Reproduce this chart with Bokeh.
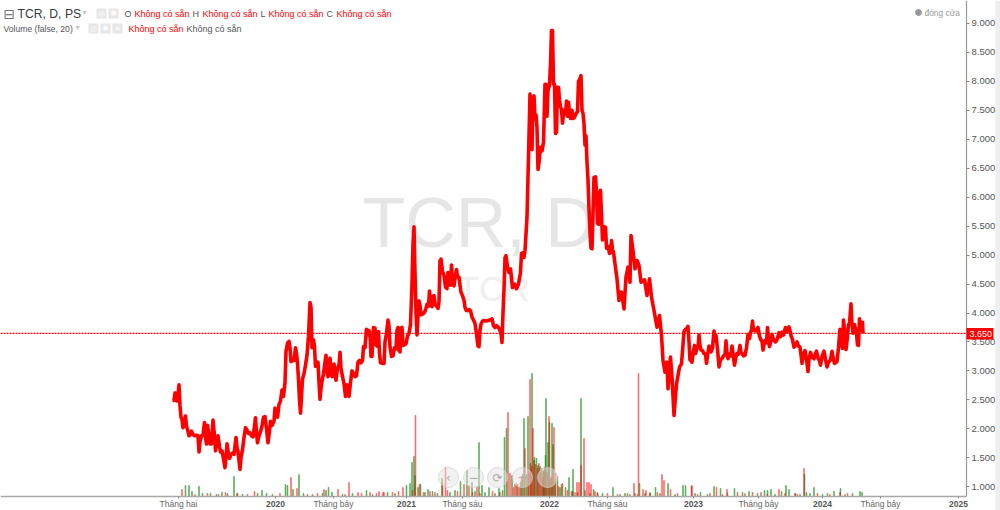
from bokeh.plotting import figure
from bokeh.embed import file_html
from bokeh.resources import INLINE
from bokeh.models import Range1d, LinearAxis, Label, FixedTicker

# --- price series: session index / close (VND)
sessions = [0,3,5,7,9,11,13,15,17,19,21,24,26,28,30,33,36,38,41,44,48,51,53,55,58,61,64,66,68,70,72,75,78,81,84,86,89,91,94,96,99,102,105,107,109,112,114,117,120,123,127,129,131,133,135,137,140,143,146,149,152,155,158,161,164,166,168,170,173,176,179,182,185,188,191,194,196,199,203,205,207,210,213,216,219,222,225,227,230,233,235,237,240,243,246,248,250,252,254,256,258,260,263,266,269,272,275,277,279,282,284,286,289,291,293,295,297,299,302,305,307,309,311,313,315,317,319,321,
323,325,327,330,333,335,337,340,343,346,349,351,353,356,359,362,365,368,371,374,377,380,382,385,388,391,393,395,397,399,402,405,407,409,412,414,416,420,423,425,428,431,433,435,438,441,444,447,449,451,453,455,457,459,461,464,467,470,473,476,479,481,483,485,487,489,491,493,495,497,500,503,506,509,512,514,516,519,521,523,525,528,531,533,535,537,540,543,546,549,551,553,556,558,560,563,565,568,570,573,575,577,580,583,585,587,590,593,596,599,602,605,608,611,613,615,617,620,623,627,631,635,639,642,645,648,651,654,657,659,661,663,665,667,
670,673,676,680,684,688,692,696,698,701,703,705,709,712,715,717,719,721,723,725,727,729,731,733,736,739,742,745,747,749,751,754,756,758,760,762,764,766,768,770,772,774,776,778,780,782,784,786,788,790,792,794,796,799,801,804,807,810,812,815,817,819,821,823,825,827,829,831,833,835,837,839,841,843,846,848,850,852,854,856,858,860,862,864,866,868,871,874,876,878,880,882,
885,889,893,898,903,907,911,915,917,921,925,929,933,937,944,949,954,958,963,969,974,978,981,985,989,991,996,999,1003,1008,1014,1018,
1023,1026,1029,1031,1033,1035,1037,1039,1041,1044,1046,1049,1051,1053,1055,1057,1060,1063,1066,1068,1070,1073,1075,1077,1080,1083,1085,1087,1090,1093,1096,1099,1102,1105,1107,1109,1111,1114,1117,1119,1121,1124,1127,1129,1132,1135,1137,1139,1142,1145,1148,1151,1154,1156,1158,1160,1162,1164,1167,1171,1174,1177,1179,1181,1184,1186,1188,1190,1192,1194,1197,1199,1202,1206,1209,1213,1216,1219,1222,1226,1229,1233,1235,1237,1240,1243,1246,1249,1252,1255,1257,1259,1262,1265,1268,1271,1273,1276,1279,1283,1286,1288,1291,1294,1296,1299,1303,1306,1309,1312,1316,1319,1322,1324,1327,1329,1332,1335,1338,1340,1342,1344,1347,1350,1352,1354,1357,1359,1361,1364,1366,1368,1370,1372,1374,1376,1378,1380,1381]
closes = [2490,2490,2620,2600,2480,2600,2760,2400,2200,2160,2020,2150,2220,2050,1990,1880,1900,1960,1900,1880,1890,1880,1600,1780,1880,1890,2110,1850,1740,2060,1950,1740,1740,2150,1880,1620,1780,1880,1700,1600,1620,1480,1330,1500,1740,1560,1490,1560,1580,1560,1850,1680,1600,1450,1300,1500,1640,1850,2020,1980,1920,1930,1880,1860,2050,2190,1930,1760,1880,1950,2050,2200,2210,2000,1760,1960,2130,2060,2130,2360,2250,2200,2420,2480,2670,2560,2800,3340,3480,3510,3400,3160,3180,3180,3400,3300,3140,2850,2500,2270,2560,2860,2950,3100,3270,3600,4180,4100,3400,3540,3420,3080,3120,3150,2800,2510,2700,2820,2950,3150,3270,3000,2900,3100,3220,2980,2900,3000,
3120,2950,2840,3050,3100,3320,3050,2900,2780,2560,2760,2700,2560,2800,3000,2950,2900,2920,3150,3180,3140,3180,3420,3400,3720,3620,3700,3640,3250,3250,3750,3740,3450,3430,3680,3300,3140,3130,3130,3500,3650,3880,3780,3420,3250,3260,3400,3380,3700,3750,3350,3330,3740,3750,3440,3450,3470,3600,3650,3800,4500,5200,5490,4700,4000,3620,3950,4210,4130,3970,3980,4000,4050,4150,4120,4380,4150,4110,4290,4300,4150,4120,4080,4200,4900,4930,4720,4650,4450,4420,4700,4640,4480,4830,4500,4470,4600,4750,4620,4620,4480,4360,4300,4220,4100,4050,4040,4060,4040,3930,3880,3820,3640,3430,3420,3700,3810,3860,3870,3860,3870,3880,3900,3780,3750,3780,3760,3720,3650,3490,4000,4400,4950,4990,
4800,4700,4760,4440,4500,4420,4500,4700,5030,5040,4960,5080,5650,6700,7780,7300,6820,7700,7750,7350,7420,7200,6480,6600,6860,6800,6950,7950,7950,7400,7850,7930,8300,8880,8880,7950,7950,7100,7120,7900,7900,7680,7560,7520,7280,7450,7500,7440,7660,7400,7640,7450,7360,7500,7360,7380,7440,7480,8000,8050,8100,7500,7450,7270,6900,7060,6600,6300,5800,5380,5120,5110,5700,6340,6350,6100,5550,5530,6050,6120,5700,5260,5420,5490,5480,5120,5150,5030,5040,5250,5100,5050,
4850,4590,4216,4360,4072,4619,4792,4533,5339,5080,4763,4907,4821,4533,4573,4303,4590,4274,4044,3756,3957,3612,3180,2978,3151,2691,3238,2892,2230,2777,3065,3123,
3680,3720,3730,3770,3500,3190,3180,3150,3290,3440,3300,3390,3400,3620,3440,3360,3350,3300,3290,3130,3260,3430,3350,3330,3400,3690,3550,3610,3380,3070,3200,3210,3260,3280,3520,3300,3210,3290,3260,3430,3300,3100,3250,3300,3290,3440,3320,3300,3260,3270,3400,3630,3560,3670,3700,3860,3700,3700,3690,3750,3600,3530,3520,3360,3500,3530,3490,3750,3500,3420,3520,3630,3540,3500,3540,3660,3590,3670,3620,3750,3680,3760,3700,3610,3540,3410,3440,3500,3430,3410,3280,3130,3280,3350,3200,2990,3200,3320,3240,3210,3300,3340,3220,3180,3100,3250,3340,3200,3070,3150,3190,3340,3200,3130,3150,3160,3400,3720,3500,3390,3880,3700,3370,3600,3800,3820,4160,3800,3650,3800,3720,3640,3450,3440,3900,3700,3780,3840,3650]

# --- volume bars by closing direction
vol_green_s = [26,33,39,53,76,99,123,129,179,188,226,230,241,253,307,312,319,388,
468,475,479,483,485,491,496,511,539,576,589,599,613,619,633,653,664,668,679,690,696,700,703,708,711,716,719,723,724,728,731,735,739,742,743,746,747,751,754,756,759,761,765,770,775,778,786,793,801,817,825,842,881,925,934,966,991,1021,1026,1056,1083,1096,1124,1153,1184,1190,1197,1218,1227,1233,1264,1268,1283,1323,1336,1375,1379,
60,88,110,140,170,200,262,280,300,340,360,400,430,445,505,520,530,555,565,605,625,645,660,800,810,835,850,860,895,905,915,945,955,975,1005,1045,1070,1110,1140,1170,1205,1245,1255,1275,1300,1310,1345,1360]
vol_green_h = [110,110,50,100,30,40,200,30,60,30,120,110,70,220,60,90,40,60,
110,130,340,400,210,90,120,70,180,150,260,140,540,110,90,80,590,680,210,120,140,160,780,220,800,330,1230,360,390,380,310,300,280,250,260,410,980,540,740,180,730,520,150,200,90,120,90,190,270,980,60,70,90,30,130,90,130,110,110,40,100,80,80,50,60,60,70,50,110,70,220,40,90,50,80,50,40,
30,20,30,20,30,20,30,20,30,20,30,20,40,30,40,50,30,40,60,50,40,30,60,50,40,30,40,30,20,30,20,30,40,30,20,30,20,30,40,30,20,30,20,30,20,30,20,30]
vol_red_s = [19,106,164,237,249,303,331,353,371,413,421,423,461,486,494,540,546,583,593,609,671,675,682,685,688,693,698,705,712,715,718,721,726,730,733,737,741,744,749,753,758,763,766,772,780,809,813,817,823,829,833,837,845,923,932,941,947,979,983,996,1038,1039,1088,1109,1130,1177,1213,1246,1263,1335,
45,70,92,130,150,215,270,290,345,378,395,408,440,452,480,502,515,525,550,570,600,615,640,655,790,798,805,850,870,890,910,930,955,970,1010,1050,1075,1100,1145,1160,1190,1225,1250,1290,1315,1350]
vol_red_h = [70,40,50,190,80,70,70,140,40,50,40,40,90,810,120,130,290,120,110,100,840,230,90,120,130,90,200,480,250,1170,300,680,320,280,330,250,190,290,240,800,200,690,230,100,130,140,140,310,580,140,140,120,50,130,1230,70,60,220,160,70,100,110,90,70,40,40,70,30,280,40,
20,30,20,30,20,30,20,30,20,30,40,30,40,50,60,40,50,40,60,50,40,30,50,40,60,50,40,30,30,20,30,20,30,40,30,20,30,20,30,40,20,30,20,30,20,30]

tick_s = [12,206,322,468,580,754,870,1042,1172,1300,1416,1572]
tick_txt = ["Tháng hai","","Tháng bảy","","Tháng sáu","","Tháng sáu","","Tháng bảy","","Tháng bảy",""]
year_s = [206,468,754,1042,1300,1572]
year_txt = ["2020","2021","2022","2023","2024","2025"]
price_ticks = [1000,1500,2000,2500,3000,3500,4000,4500,5000,5500,6000,6500,7000,7500,8000,8500,9000]
price_txt = ["1.000","1.500","2.000","2.500","3.000","3.500","4.000","4.500","5.000","5.500","6.000","6.500","7.000","7.500","8.000","8.500","9.000"]
last_close = 3650

FONT = "Liberation Sans"
p = figure(width=1000, height=510, output_backend="svg", toolbar_location=None,
           x_range=Range1d(-344, 1656), y_range=Range1d(589.5, 9397),
           min_border=0, outline_line_color=None, background_fill_color="white", border_fill_color="white",
           x_axis_location="below", y_axis_location=None)
p.styles = {"position": "absolute", "left": "0px", "top": "0px"}
p.grid.visible = False
p.extra_x_ranges["px"] = Range1d(0, 1000)
p.extra_y_ranges["px"] = Range1d(510, 0)
p.extra_y_ranges["vol"] = Range1d(-140, 4960)

# x axis
xa = p.xaxis[0]
xa.fixed_location = 831
xa.bounds = (-344, 1588)
xa.ticker = FixedTicker(ticks=tick_s)
xa.major_label_overrides = {s: t for s, t in zip(tick_s, tick_txt)}
xa.axis_line_color = "#a8a8a8"; xa.axis_line_width = 1.5
xa.major_tick_line_color = "#888888"; xa.major_tick_out = 2; xa.major_tick_in = 0
xa.minor_tick_line_color = None
xa.major_label_text_font = FONT; xa.major_label_text_font_size = "8.5px"
xa.major_label_text_color = "#666666"; xa.major_label_standoff = 0

# y axis
ya = LinearAxis(ticker=FixedTicker(ticks=price_ticks), fixed_location=1588, bounds=(831, 9397),
                major_label_overrides={s: t for s, t in zip(price_ticks, price_txt)})
ya.axis_line_color = "#999999"; ya.axis_line_width = 1.2
ya.major_tick_line_color = "#888888"; ya.major_tick_out = 3; ya.major_tick_in = 0
ya.minor_tick_line_color = None
ya.major_label_text_font = FONT; ya.major_label_text_font_size = "9.5px"
ya.major_label_text_color = "#555555"; ya.major_label_standoff = 2
p.add_layout(ya, "right")

def lab(x, y, t, size=10, color="#333333", style="normal", font=FONT, align="left", **k):
    p.add_layout(Label(x=x, y=y, text=t, x_range_name="px", y_range_name="px",
                       text_font=font, text_font_size=f"{size}px", text_color=color,
                       text_font_style=style, text_align=align, text_baseline="middle", **k))

# watermark
lab(362, 222, "TCR, D", 70, "#e6e6e6", level="underlay")
lab(457, 288, "TCR", 35, "#f0f0f0", level="underlay")

# volume
p.vbar(x=vol_green_s, top=vol_green_h, bottom=0, width=1.7, y_range_name="vol",
       color="#008000", alpha=0.42)
p.vbar(x=vol_red_s, top=vol_red_h, bottom=0, width=1.7, y_range_name="vol",
       color="#ff0000", alpha=0.38)

# last value line and price
p.segment(x0=[-344], x1=[1588], y0=[last_close], y1=[last_close], line_color="#ff0000",
          line_width=1.2, line_dash="2 1")
p.line(sessions, closes, line_color="#ff0000", line_width=3.6, line_join="round")

# navigation buttons
btn_x = [448, 473, 497, 522, 547]
btn_txt = ["‹", "−", "⟳", "+", "›"]
p.scatter(btn_x, [477]*5, size=20, x_range_name="px", y_range_name="px",
          fill_color="#e4e4e4", fill_alpha=0.5, line_color="#d0d0d0", line_alpha=0.7)
for bx, bt in zip(btn_x, btn_txt):
    lab(bx, 477, bt, 12, "#aaaaaa", font="DejaVu Sans", align="center")

# header
lab(3, 13, "⊟", 14, "#777777", font="DejaVu Sans")
lab(17, 13, "TCR, D, PS", 12.2, "#3a3a3a")
lab(82, 12, "▾", 8, "#c4c4c4", font="DejaVu Sans")
p.quad(left=[96,108,88,100,112], right=[106,118,98,110,122], top=[8,8,23,23,23], bottom=[18,18,33,33,33],
       x_range_name="px", y_range_name="px", fill_color="#e6e6e6", line_color=None)
for ix, iy, it in [(101,13,"◎"),(113,13,"✱"),(93,28,"◎"),(105,28,"✱"),(117,28,"✕")]:
    lab(ix, iy, it, 8, "#ffffff", font="DejaVu Sans", align="center")
NA = "Không có sẵn"
for lx, ll, vx in [(124,"O",134),(192,"H",202),(260,"L",268),(326,"C",336)]:
    lab(lx, 13, ll, 9, "#555555")
    lab(vx, 13, NA, 9, "#ff0000")
lab(3, 28, "Volume (false, 20)", 8.6, "#555555")
lab(75, 27, "▾", 8, "#c4c4c4", font="DejaVu Sans")
lab(128, 28, NA, 9, "#ff0000")
lab(186, 28, NA, 9, "#555555")

# legend at right
p.scatter([918], [12], size=6, x_range_name="px", y_range_name="px", color="#999999")
lab(924, 12, "đóng cửa", 8.4, "#999999")

# bold years
for ys, yt in zip(year_s, year_txt):
    p.add_layout(Label(x=ys, y=503, text=yt, y_range_name="px", text_font=FONT, text_font_size="8.5px",
                       text_font_style="bold", text_color="#555555", text_align="center", text_baseline="middle"))

# current price tag and right strip
p.quad(left=[995, 966], right=[1000, 993], top=[0, 327.5], bottom=[510, 339], x_range_name="px", y_range_name="px",
       fill_color=["#eeeeee", "#ff0000"], line_color=None, level="overlay")
lab(969, 333.5, "3.650", 9, "#ffffff", level="overlay")

open("out.html", "w").write(file_html(p, INLINE))
